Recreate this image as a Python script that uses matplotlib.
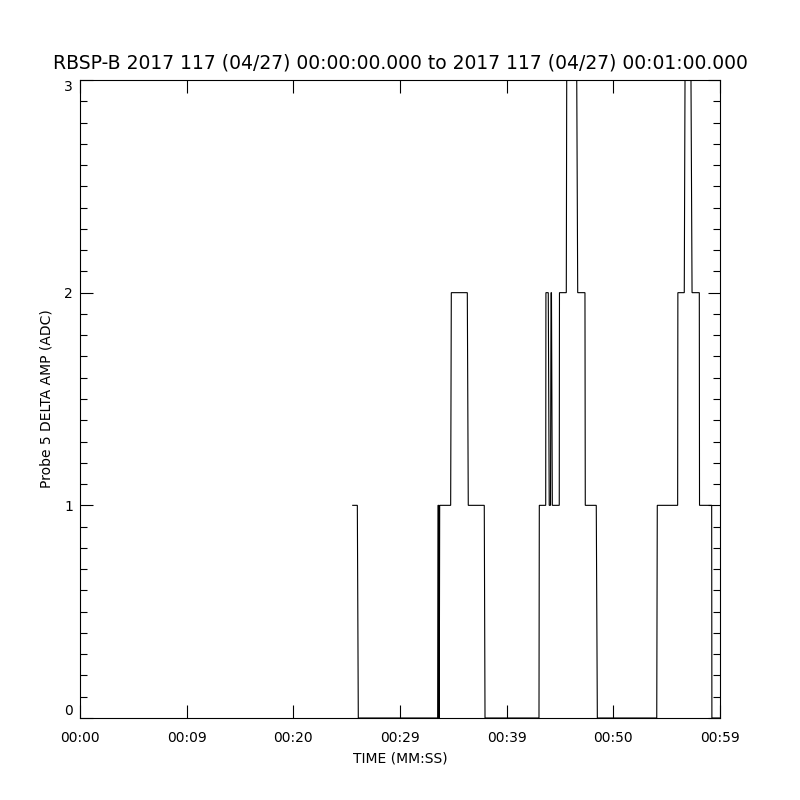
import numpy as np
import matplotlib
matplotlib.use('Agg')
from matplotlib import pyplot as plt
from matplotlib.ticker import MultipleLocator

# seconds after 00:00:00 and probe 5 delta amplitude (ADC)
t_sec = [25.57, 26.00, 26.09, 33.53, 33.56, 33.63, 33.66, 33.68, 33.72,
         34.75, 34.81, 36.31, 36.40, 37.90, 37.97, 43.03, 43.06, 43.66,
         43.68, 43.90, 43.99, 44.11, 44.16, 44.20, 44.28, 44.93, 44.95,
         45.59, 45.63, 46.57, 46.66, 47.34, 47.37, 48.40, 48.50, 54.07,
         54.12, 56.03, 56.05, 56.65, 56.72, 57.28, 57.38, 58.06, 58.08,
         59.22, 59.24, 60.00]
amp = [1, 1, 0, 0, 1, 1, 0, 0, 1,
       1, 2, 2, 1, 1, 0, 0, 1, 1,
       2, 2, 1, 1, 2, 2, 1, 1, 2,
       2, 3, 3, 2, 2, 1, 1, 0, 0,
       1, 1, 2, 2, 3, 3, 2, 2, 1,
       1, 0, 0]

xticks = [0, 10, 20, 30, 40, 50, 60]
xtick_labels = ['00:00', '00:09', '00:20', '00:29', '00:39', '00:50', '00:59']
yticks = [0, 1, 2, 3]

title = 'RBSP-B 2017 117 (04/27) 00:00:00.000 to 2017 117 (04/27) 00:01:00.000'

fig = plt.figure(figsize=(8, 8), dpi=100)
ax = fig.add_axes([0.1, 0.1025, 0.8, 0.7975])

ax.plot(t_sec, amp, color='black', lw=0.8, solid_joinstyle='miter', zorder=1)

ax.set_xlim(0, 60)
ax.set_ylim(0, 3)
ax.set_xticks(xticks)
ax.set_xticklabels(xtick_labels)
ax.set_yticks(yticks)
ax.yaxis.set_minor_locator(MultipleLocator(0.1))

ax.tick_params(which='both', direction='in', top=True, right=True,
               color='black', width=0.8, labelsize=10)
ax.tick_params(axis='x', which='major', length=9.5, pad=9)
ax.tick_params(axis='y', which='major', length=9, pad=5)
ax.tick_params(axis='y', which='minor', length=5)
for s in ax.spines.values():
    s.set_linewidth(0.8)

# IDL keeps the end labels inside the axis range
ylabels = ax.get_yticklabels()
ylabels[0].set_va('bottom')
ylabels[-1].set_va('top')

ax.set_xlabel('TIME (MM:SS)', fontsize=10, labelpad=5)
ax.set_ylabel('Probe 5 DELTA AMP (ADC)', fontsize=10, labelpad=8)
ax.set_title(title, fontsize=13.5, pad=8)

fig.savefig('out.png', dpi=100)
